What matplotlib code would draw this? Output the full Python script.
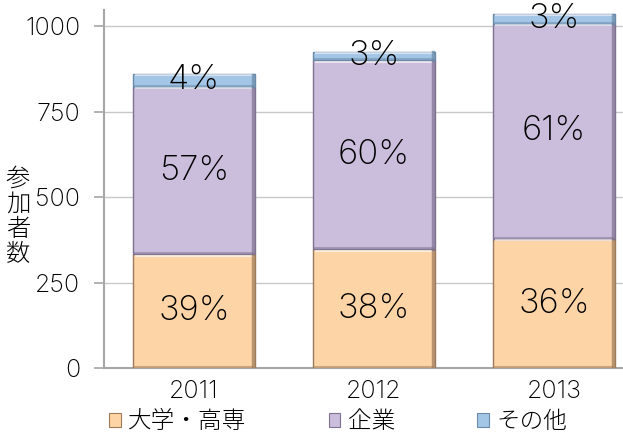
import numpy as np
import matplotlib.pyplot as plt
from matplotlib.patches import Patch

plt.rcParams['font.family'] = ['Inter', 'Noto Sans CJK JP', 'DejaVu Sans']
plt.rcParams['font.weight'] = 'light'

# Data
years = ['2011', '2012', '2013']
univ = [333, 347, 377]      # 大学・高専
company = [489, 553, 630]   # 企業
other = [38, 25, 28]        # その他
series_names = ['大学・高専', '企業', 'その他']
colors = ['#FDD4A6', '#CBBEDC', '#A3C5E6']
edges = ['#9C7A5A', '#7E7290', '#6A8AA8']

x = np.arange(len(years))
totals = np.array(univ) + np.array(company) + np.array(other)

fig = plt.figure(figsize=(6.23, 4.43), dpi=100)
ax = fig.add_axes([104 / 623, 75 / 443, 540 / 623, 358 / 443])

bottom = np.zeros(len(years))
for vals, c, ec in zip([univ, company, other], colors, edges):
    vals = np.array(vals)
    bars = ax.bar(x, vals, width=0.68, bottom=bottom, color=c,
                  edgecolor=ec, linewidth=1.0, zorder=3)
    for b in bars:
        # soft bevel: light top line, dark right and bottom lines
        bx, by, bw, bh = b.get_x(), b.get_y(), b.get_width(), b.get_height()
        ax.plot([bx + 0.02, bx + bw - 0.02], [by + bh - 4, by + bh - 4],
                color='white', alpha=0.6, lw=1.5, zorder=4)
        ax.plot([bx + bw - 0.012, bx + bw - 0.012], [by + 2, by + bh - 2],
                color=ec, alpha=0.7, lw=2.5, zorder=4)
        ax.plot([bx + 0.01, bx + bw - 0.01], [by + 3, by + 3],
                color=ec, alpha=0.5, lw=1.5, zorder=4)
    for xi, v, b0, t in zip(x, vals, bottom, totals):
        ax.text(xi, b0 + v / 2, f'{round(v / t * 100)}%', ha='center',
                va='center', fontsize=25, color='black', zorder=5)
    bottom += vals

ax.set_xlim(-0.5, 2.5)
ax.set_ylim(0, 1047)
ax.set_yticks([0, 250, 500, 750, 1000])
ax.set_xticks(x)
ax.set_xticklabels(years)
ax.tick_params(axis='y', length=7, width=1.2, color='#A6A6A6', pad=10,
               labelsize=18)
ax.tick_params(axis='x', length=0, pad=9, labelsize=18)
ax.yaxis.grid(True, color='#C8C8C8', linewidth=1.0, zorder=0)
ax.set_axisbelow(True)
for s in ['top', 'right']:
    ax.spines[s].set_visible(False)
ax.spines['left'].set_color('#A6A6A6')
ax.spines['left'].set_linewidth(1.5)
ax.spines['bottom'].set_color('#A6A6A6')
ax.spines['bottom'].set_linewidth(1.5)

fig.text(18 / 623, 1 - 217 / 443, '参\n加\n者\n数', ha='center', va='center',
         fontsize=17.5, linespacing=1.0, family=['Noto Sans CJK JP'])

handles = [Patch(facecolor=c, edgecolor=ec, linewidth=0.8)
           for c, ec in zip(colors, edges)]
fig.legend(handles, series_names, loc='center', ncol=3,
           bbox_to_anchor=(338 / 623, 1 - 422 / 443), frameon=False,
           prop={'family': ['Noto Sans CJK JP'], 'size': 17, 'weight': 'light'},
           handlelength=0.5, handleheight=0.5,
           handletextpad=0.3, columnspacing=3.5, borderpad=0)

fig.savefig('out.png', dpi=100)
